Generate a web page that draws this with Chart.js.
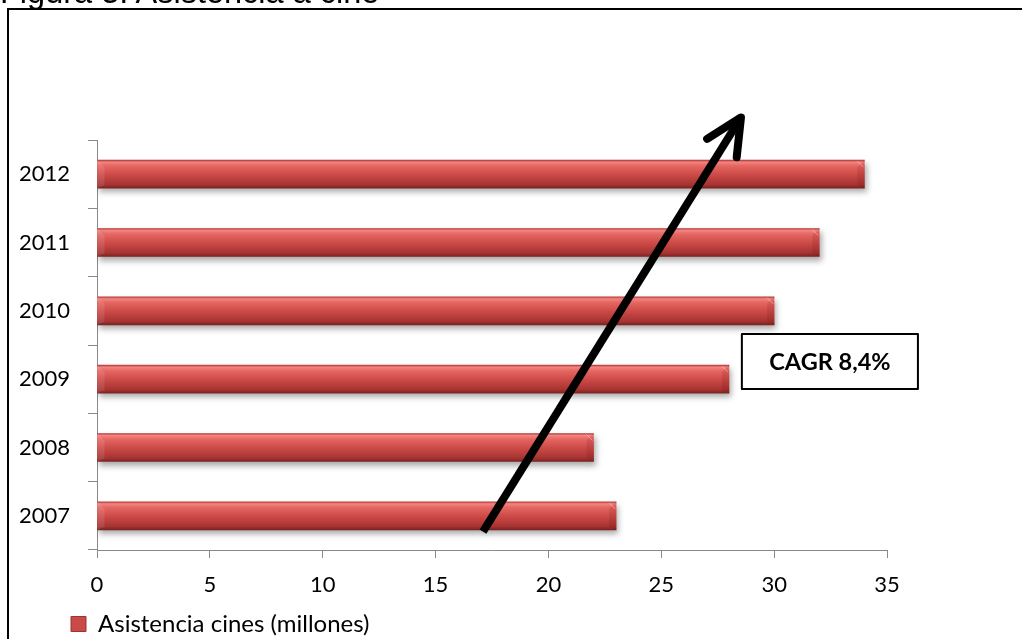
<!DOCTYPE html>
<html>
<head>
<meta charset="utf-8">
<script src="https://cdn.jsdelivr.net/npm/chart.js@4"></script>
<style>
  html, body { margin: 0; padding: 0; background: #fff; overflow: hidden; }
  #wrap { position: relative; width: 1022px; height: 639px; overflow: hidden; }
  #frame { position: absolute; left: 7px; top: 8px; width: 2000px; height: 2000px;
           border-left: 2px solid #000; border-top: 2px solid #000; }
  #title { position: absolute; left: 0; top: -24px; font: 32.5px "Liberation Sans", Arial, sans-serif;
           line-height: 32px; color: #000; white-space: nowrap; }
  #chart { position: absolute; left: 0; top: 0; }
</style>
</head>
<body>
<div id="wrap">
  <div id="frame"></div>
  <canvas id="chart" width="1022" height="660"></canvas>
  <div id="title">Figura 3: Asistencia a cine</div>
</div>
<script>
const years = ['2007', '2008', '2009', '2010', '2011', '2012'];
const asistencia = [23, 22, 28, 30, 32, 34];
const xTicks = [0, 5, 10, 15, 20, 25, 30, 35];
const seriesName = 'Asistencia cines (millones)';
const cagrText = 'CAGR 8,4%';

const BAR_H = 28;
const FONT = 'Lato, "Open Sans", sans-serif';

function tubeGradient(g) {
    g.addColorStop(0, '#b43c3a');
    g.addColorStop(0.07, '#f28581');
    g.addColorStop(0.2, '#e66662');
    g.addColorStop(0.55, '#c94845');
    g.addColorStop(0.88, '#a53331');
    g.addColorStop(1, '#7a2321');
    return g;
}

// vertical gradient per bar, gives the rounded "tube" look
function barFill(c) {
    const chart = c.chart;
    if (c.dataIndex === undefined || !chart.chartArea || !chart.scales.y) return '#c0504d';
    const yc = chart.scales.y.getPixelForValue(c.dataIndex);
    return tubeGradient(chart.ctx.createLinearGradient(0, yc - BAR_H / 2, 0, yc + BAR_H / 2));
}

// soft shadow under the bars, plus the bevel at the bar ends
const barShadow = {
    id: 'barShadow',
    beforeDatasetsDraw(chart) {
        const ctx = chart.ctx;
        ctx.save();
        ctx.shadowColor = 'rgba(0,0,0,0.33)';
        ctx.shadowBlur = 6;
        ctx.shadowOffsetX = 2;
        ctx.shadowOffsetY = 4;
    },
    afterDatasetsDraw(chart) {
        const ctx = chart.ctx;
        ctx.restore();
        const bev = 7;
        chart.getDatasetMeta(0).data.forEach(bar => {
            const top = bar.y - bar.height / 2, bottom = bar.y + bar.height / 2;
            const xr = bar.x, xl = bar.base;
            ctx.save();
            // right end face
            ctx.fillStyle = 'rgba(90,10,10,0.12)';
            ctx.beginPath();
            ctx.moveTo(xr - bev, top + bev);
            ctx.lineTo(xr, top);
            ctx.lineTo(xr, bottom);
            ctx.lineTo(xr - bev, bottom - 3);
            ctx.closePath();
            ctx.fill();
            ctx.strokeStyle = 'rgba(255,200,200,0.55)';
            ctx.lineWidth = 1;
            ctx.beginPath();
            ctx.moveTo(xr - bev, top + 1);
            ctx.lineTo(xr - 1, top + bev);
            ctx.stroke();
            // left end face
            ctx.fillStyle = 'rgba(255,255,255,0.10)';
            ctx.beginPath();
            ctx.moveTo(xl, top);
            ctx.lineTo(xl + bev, top + bev);
            ctx.lineTo(xl + bev, bottom - 3);
            ctx.lineTo(xl, bottom);
            ctx.closePath();
            ctx.fill();
            ctx.restore();
        });
    }
};

// legend sits under the axis, indented from the frame
const legendIndent = {
    id: 'legendIndent',
    afterLayout(chart) {
        const lg = chart.legend;
        const w = lg.right - lg.left;
        lg.left = 61;
        lg.right = 61 + w;
    }
};

// trend arrow and the CAGR box
const trendNote = {
    id: 'trendNote',
    afterDraw(chart) {
        const ctx = chart.ctx;
        const x = chart.scales.x, y = chart.scales.y;

        const x0 = x.getPixelForValue(17.1), y0 = y.getPixelForValue(-0.23);
        const x1 = x.getPixelForValue(28.53), y1 = y.getPixelForValue(5.83);
        const ang = Math.atan2(y1 - y0, x1 - x0);

        ctx.save();
        ctx.strokeStyle = '#000';
        ctx.lineWidth = 8;
        ctx.lineCap = 'butt';
        ctx.beginPath();
        ctx.moveTo(x0, y0);
        ctx.lineTo(x1 - 3 * Math.cos(ang), y1 - 3 * Math.sin(ang));
        ctx.stroke();

        const len = 40, spread = 0.45;
        ctx.lineCap = 'round';
        ctx.lineJoin = 'round';
        ctx.beginPath();
        ctx.moveTo(x1 - len * Math.cos(ang - spread), y1 - len * Math.sin(ang - spread));
        ctx.lineTo(x1, y1);
        ctx.lineTo(x1 - len * Math.cos(ang + spread), y1 - len * Math.sin(ang + spread));
        ctx.stroke();

        // label box
        const bl = x.getPixelForValue(28.57), br = x.getPixelForValue(36.37);
        const bt = y.getPixelForValue(2.66), bb = y.getPixelForValue(1.856);
        ctx.fillStyle = '#fff';
        ctx.fillRect(bl, bt, br - bl, bb - bt);
        ctx.lineWidth = 2;
        ctx.strokeRect(bl, bt, br - bl, bb - bt);
        ctx.fillStyle = '#000';
        ctx.font = 'bold 23.5px ' + FONT;
        ctx.textAlign = 'center';
        ctx.textBaseline = 'middle';
        ctx.fillText(cagrText, (bl + br) / 2, (bt + bb) / 2 + 1);
        ctx.restore();
    }
};

const ctx = document.getElementById('chart').getContext('2d');

new Chart(ctx, {
    type: 'bar',
    data: {
        labels: years,
        datasets: [{
            label: seriesName,
            data: asistencia,
            backgroundColor: barFill,
            borderWidth: 0,
            barThickness: BAR_H
        }]
    },
    options: {
        indexAxis: 'y',
        responsive: false,
        animation: false,
        layout: {
            padding: { top: 140, left: 10, right: 135, bottom: 14 }
        },
        scales: {
            y: {
                reverse: true,
                afterFit: s => { s.width = 87; },
                border: { color: '#8a8a8a', width: 1 },
                grid: { drawOnChartArea: false, offset: true, tickLength: 9, color: '#8a8a8a' },
                ticks: { color: '#000', padding: 18, font: { family: FONT, size: 22 } }
            },
            x: {
                min: 0,
                max: 35,
                afterFit: s => { s.height = 52; },
                afterBuildTicks: s => { s.ticks = xTicks.map(v => ({ value: v })); },
                border: { color: '#8a8a8a', width: 1 },
                grid: { drawOnChartArea: false, tickLength: 8, color: '#8a8a8a' },
                ticks: { color: '#000', padding: 14, font: { family: FONT, size: 22 } }
            }
        },
        plugins: {
            legend: {
                position: 'bottom',
                align: 'start',
                labels: {
                    color: '#000',
                    boxWidth: 15,
                    boxHeight: 15,
                    padding: 10,
                    font: { family: FONT, size: 24 },
                    generateLabels: chart => {
                        const items = Chart.defaults.plugins.legend.labels.generateLabels(chart);
                        items.forEach(it => { it.fillStyle = '#c84b48'; it.strokeStyle = '#9e3532'; it.lineWidth = 1; });
                        return items;
                    }
                }
            },
            tooltip: { enabled: false }
        }
    },
    plugins: [barShadow, legendIndent, trendNote]
});
</script>
</body>
</html>
